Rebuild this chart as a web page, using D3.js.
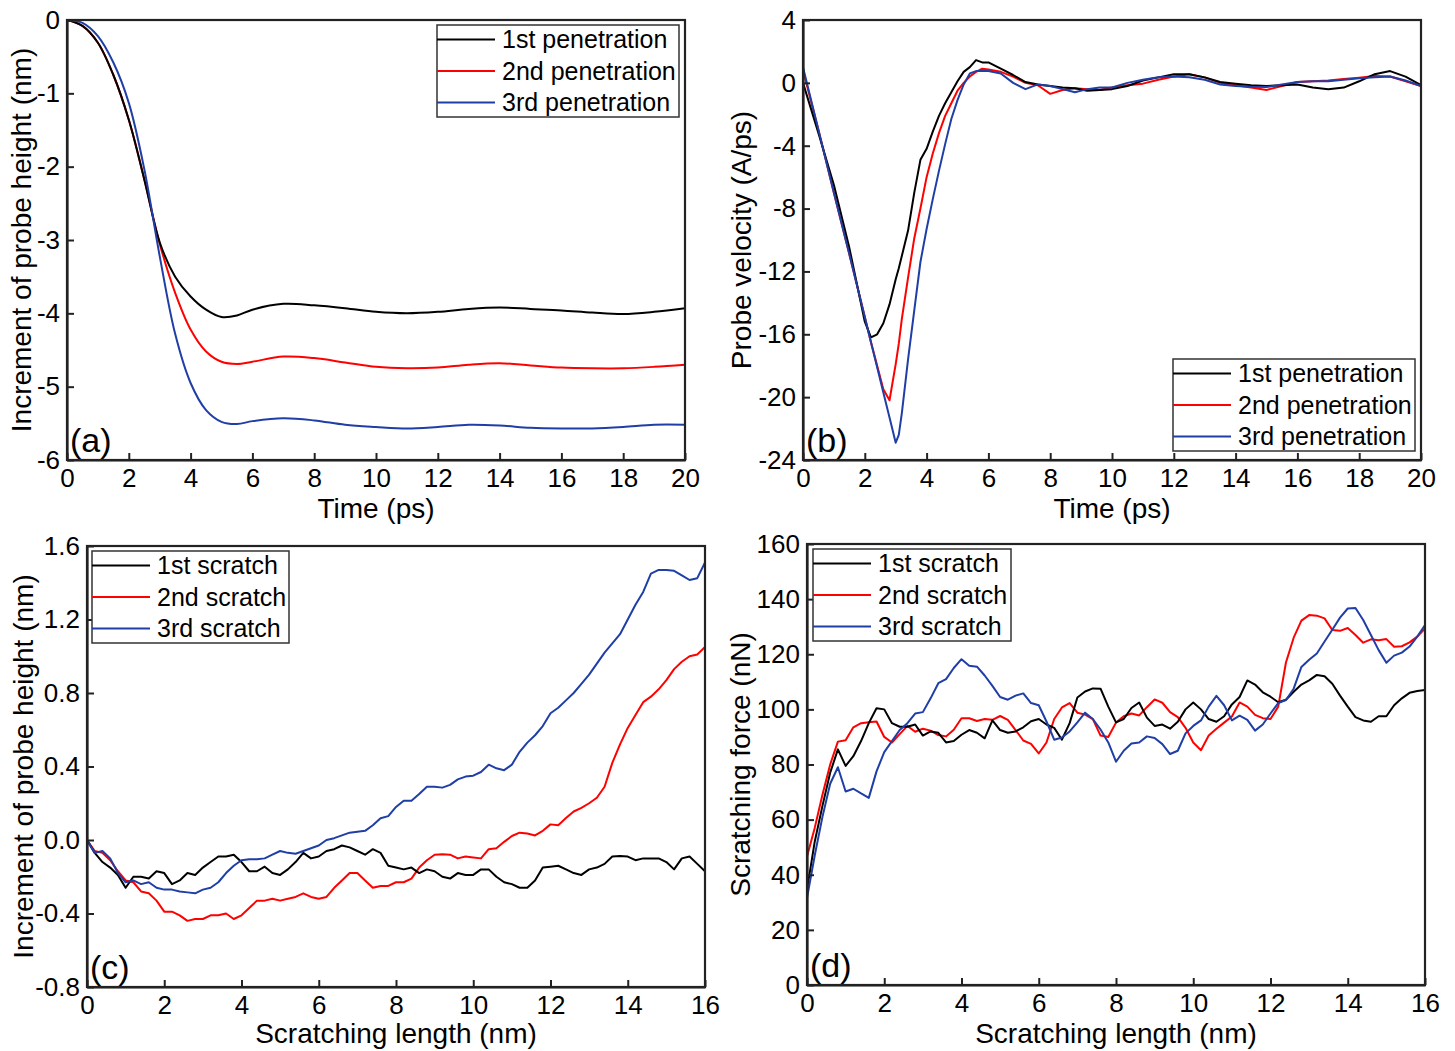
<!DOCTYPE html>
<html>
<head>
<meta charset="utf-8">
<script src="https://cdn.jsdelivr.net/npm/d3@7"></script>
<style>
body { margin: 0; background: #fff; }
text { font-family: "Liberation Sans", Arial, sans-serif; fill: #000; }
</style>
</head>
<body>
<script>
var width = 1455,
    height = 1051;

// ---- data -------------------------------------------------------------
var penetrationNames = ['1st penetration', '2nd penetration', '3rd penetration'];
var scratchNames = ['1st scratch', '2nd scratch', '3rd scratch'];

var timeTicks = [0, 2, 4, 6, 8, 10, 12, 14, 16, 18, 20];
var lengthTicks = [0, 2, 4, 6, 8, 10, 12, 14, 16];
var heightTicksA = [0, -1, -2, -3, -4, -5, -6];
var velocityTicks = [4, 0, -4, -8, -12, -16, -20, -24];
var heightTicksC = [1.6, 1.2, 0.8, 0.4, 0.0, -0.4, -0.8];
var forceTicks = [0, 20, 40, 60, 80, 100, 120, 140, 160];

// (a) probe height during penetration
var timeA = [0, 0.5, 1, 1.5, 2, 2.5, 3, 3.5, 4, 4.5, 5, 5.5, 6, 7, 8, 9, 10, 11, 12, 13, 14, 15, 16, 17, 18, 19, 20];
var heightA1 = [0, -0.08, -0.31, -0.75, -1.36, -2.17, -3.03, -3.50, -3.77, -3.95, -4.05, -4.03, -3.95, -3.87, -3.89, -3.93, -3.98, -4.00, -3.98, -3.94, -3.92, -3.94, -3.96, -3.99, -4.01, -3.98, -3.93];
var heightA2 = [0, -0.08, -0.31, -0.75, -1.36, -2.17, -3.05, -3.72, -4.22, -4.52, -4.66, -4.69, -4.66, -4.59, -4.61, -4.67, -4.73, -4.75, -4.74, -4.70, -4.68, -4.71, -4.74, -4.75, -4.75, -4.73, -4.70];
var heightA3 = [0, -0.04, -0.22, -0.58, -1.13, -2.03, -3.22, -4.28, -4.95, -5.32, -5.48, -5.51, -5.47, -5.43, -5.46, -5.52, -5.55, -5.57, -5.55, -5.52, -5.53, -5.56, -5.57, -5.57, -5.55, -5.52, -5.52];

// (b) probe velocity during penetration
var timeB = [0, 0.5, 1, 1.5, 2, 2.2, 2.4, 2.6, 2.8, 3.0, 3.1, 3.2, 3.4, 3.6, 3.8, 4.0, 4.2, 4.4, 4.6, 4.8,
             5.0, 5.2, 5.4, 5.6, 5.8, 6.0, 6.4, 6.8, 7.2, 7.6, 8.0, 8.4, 8.8, 9.2, 9.6, 10, 10.5, 11, 11.5, 12,
             12.5, 13, 13.5, 14, 14.5, 15, 15.5, 16, 16.5, 17, 17.5, 18, 18.5, 19, 19.5, 20];
var velocityB1 = [0, -3.2, -6.5, -10.5, -15.2, -16.2, -16.0, -15.3, -14.1, -12.5, -11.8, -11.0, -9.4, -7.0, -4.9, -4.2, -3.1, -2.1, -1.3, -0.6,
                  0.1, 0.7, 1.0, 1.45, 1.3, 1.3, 0.9, 0.5, 0.05, -0.1, -0.2, -0.3, -0.35, -0.5, -0.46, -0.4, -0.2, 0.15, 0.35, 0.55,
                  0.55, 0.35, 0.05, -0.05, -0.15, -0.2, -0.15, -0.1, -0.3, -0.4, -0.3, 0.1, 0.55, 0.75, 0.4, -0.15];
var velocityB2 = [0.8, -3.0, -7.0, -10.9, -14.9, -16.5, -18.0, -19.5, -20.2, -17.9, -16.6, -15.0, -12.4, -9.9, -8.0, -6.0, -4.5, -3.2, -2.1, -1.3,
                  -0.5, 0.0, 0.4, 0.7, 0.9, 0.85, 0.7, 0.4, 0.0, -0.15, -0.7, -0.45, -0.35, -0.4, -0.45, -0.3, -0.15, -0.05, 0.2, 0.4,
                  0.55, 0.35, 0.0, -0.15, -0.3, -0.45, -0.2, 0.05, 0.1, 0.15, 0.25, 0.33, 0.43, 0.4, 0.1, -0.2];
var velocityB3 = [1.0, -3.0, -7.0, -10.9, -14.9, -16.5, -18.1, -19.7, -21.3, -22.9, -22.4, -21.0, -17.6, -14.5, -11.4, -9.3, -7.4, -5.6, -3.9, -2.3,
                  -1.1, -0.1, 0.6, 0.75, 0.75, 0.75, 0.6, 0.0, -0.4, -0.1, -0.2, -0.4, -0.6, -0.4, -0.3, -0.3, 0.0, 0.2, 0.35, 0.4,
                  0.35, 0.2, -0.1, -0.2, -0.25, -0.27, -0.1, 0.05, 0.1, 0.1, 0.2, 0.3, 0.35, 0.4, 0.15, -0.2];

// (c), (d) scratching
var lengthCD = [0, 0.2, 0.4, 0.6, 0.8, 1.0, 1.2, 1.4, 1.6, 1.8, 2.0, 2.2, 2.4, 2.6, 2.8, 3.0, 3.2, 3.4, 3.6, 3.8,
                4.0, 4.2, 4.4, 4.6, 4.8, 5.0, 5.2, 5.4, 5.6, 5.8, 6.0, 6.2, 6.4, 6.6, 6.8, 7.0, 7.2, 7.4, 7.6, 7.8,
                8.0, 8.2, 8.4, 8.6, 8.8, 9.0, 9.2, 9.4, 9.6, 9.8, 10.0, 10.2, 10.4, 10.6, 10.8, 11.0, 11.2, 11.4, 11.6, 11.8,
                12.0, 12.2, 12.4, 12.6, 12.8, 13.0, 13.2, 13.4, 13.6, 13.8, 14.0, 14.2, 14.4, 14.6, 14.8, 15.0, 15.2, 15.4, 15.6, 15.8, 16.0];
var heightC1 = [0, -0.07, -0.12, -0.15, -0.19, -0.26, -0.20, -0.20, -0.21, -0.17, -0.18, -0.24, -0.22, -0.18, -0.19, -0.15, -0.12, -0.09, -0.09, -0.08,
                -0.12, -0.17, -0.17, -0.145, -0.18, -0.19, -0.16, -0.12, -0.07, -0.10, -0.09, -0.06, -0.05, -0.03, -0.04, -0.06, -0.08, -0.05, -0.07, -0.14,
                -0.15, -0.16, -0.15, -0.18, -0.16, -0.17, -0.20, -0.21, -0.18, -0.19, -0.19, -0.16, -0.16, -0.20, -0.23, -0.24, -0.26, -0.26, -0.22, -0.15,
                -0.145, -0.14, -0.16, -0.18, -0.19, -0.16, -0.15, -0.13, -0.09, -0.087, -0.09, -0.11, -0.10, -0.10, -0.10, -0.12, -0.16, -0.10, -0.09, -0.13, -0.17];
var heightC2 = [0, -0.06, -0.07, -0.11, -0.17, -0.22, -0.23, -0.28, -0.29, -0.33, -0.39, -0.39, -0.41, -0.44, -0.43, -0.43, -0.41, -0.41, -0.40, -0.43,
                -0.41, -0.37, -0.33, -0.33, -0.32, -0.33, -0.32, -0.31, -0.29, -0.31, -0.32, -0.31, -0.26, -0.22, -0.18, -0.18, -0.22, -0.26, -0.25, -0.25,
                -0.23, -0.23, -0.21, -0.15, -0.11, -0.08, -0.077, -0.08, -0.10, -0.09, -0.095, -0.10, -0.05, -0.045, -0.01, 0.022, 0.04, 0.035, 0.025, 0.05,
                0.085, 0.08, 0.12, 0.155, 0.175, 0.20, 0.23, 0.29, 0.42, 0.52, 0.61, 0.68, 0.75, 0.78, 0.82, 0.87, 0.93, 0.97, 1.0, 1.01, 1.05];
var heightC3 = [0, -0.07, -0.06, -0.10, -0.18, -0.23, -0.22, -0.24, -0.23, -0.26, -0.27, -0.27, -0.28, -0.285, -0.29, -0.27, -0.26, -0.23, -0.18, -0.14,
                -0.11, -0.105, -0.105, -0.10, -0.08, -0.06, -0.07, -0.075, -0.06, -0.045, -0.03, 0.0, 0.01, 0.025, 0.04, 0.045, 0.05, 0.08, 0.118, 0.13,
                0.18, 0.214, 0.214, 0.25, 0.29, 0.29, 0.285, 0.30, 0.33, 0.345, 0.35, 0.37, 0.41, 0.39, 0.38, 0.41, 0.48, 0.53, 0.57, 0.62,
                0.69, 0.72, 0.76, 0.80, 0.85, 0.90, 0.96, 1.02, 1.07, 1.12, 1.20, 1.28, 1.35, 1.45, 1.47, 1.47, 1.465, 1.44, 1.415, 1.425, 1.51];
var forceD1 = [34.5, 52, 65, 77, 85.5, 79.5, 83, 88.5, 95, 100.4, 100, 95, 93.7, 93.7, 94.5, 90.5, 92, 91.5, 88, 88.5,
               90.8, 92.5, 91.5, 89.5, 96, 92.5, 91.5, 92, 93.5, 95.7, 96.5, 94.5, 93.3, 89, 95, 104.3, 106.5, 107.6, 107.5, 101,
               95.3, 96.5, 100.5, 102.5, 97, 94, 94.5, 93, 95.5, 100, 102.5, 100, 96.5, 95.5, 97.5, 101.8, 104.5, 110.5, 109, 106.2,
               104.6, 102.6, 103.5, 106.4, 109, 110.5, 112.5, 112, 109.3, 105, 101, 97.2, 96, 95.5, 97.5, 97.5, 101.5, 104, 106, 106.7, 107];
var forceD2 = [46.6, 57, 69, 80, 88.3, 88.8, 93.5, 95, 95.3, 95.6, 90, 88, 91, 94, 91.9, 93, 92.3, 90.7, 90.2, 92.6,
               96.8, 96.8, 95.8, 96.5, 96.2, 97.6, 96.2, 92.5, 88.7, 87.5, 84, 88, 96.5, 100.7, 102.3, 98.8, 98.1, 96.5, 90.5, 90,
               95.2, 97.5, 98.5, 97.8, 100.8, 103.6, 102.4, 99, 97.2, 93.3, 88, 85.2, 90.5, 93, 95.2, 97.4, 102.5, 101, 98, 96.8,
               96.5, 101, 117, 126, 132.2, 134.2, 134, 133, 128.8, 128.5, 129.5, 127, 124.2, 125.4, 125.1, 125.5, 122.7, 122.9, 124.3, 126.4, 129.3];
var forceD3 = [31.5, 47, 61, 73, 79, 70.2, 71.2, 69.5, 67.9, 77.5, 84.5, 88.5, 92.5, 95, 98.5, 99, 104, 109.5, 111, 115,
               118.2, 115.8, 115.5, 112.3, 108.5, 104.5, 103.5, 105, 105.8, 102.3, 101.5, 95.6, 89, 89.8, 92, 95.3, 98.8, 96.5, 92.7, 88,
               81, 85, 87.6, 88, 90.2, 89.6, 87.4, 83.8, 85, 91.3, 94, 96, 101, 104.9, 101.5, 96, 97.7, 96.2, 92.3, 94.5,
               98.5, 102.3, 103.4, 107.5, 115.4, 118, 120.3, 124.6, 128.9, 133.3, 136.6, 136.8, 132.4, 127, 121.5, 116.9, 119.5, 120.6, 122.8, 126.4, 130.6];

// ---- drawing ----------------------------------------------------------
var colors = ['#000000', '#ff0000', '#1f3ea6'];

var svg = d3.select('body').append('svg')
    .attr('width', width)
    .attr('height', height);

var panels = [
    {left: 67, top: 20, right: 685, bottom: 460, xDomain: [0, 20], yDomain: [-6, 0],
     xTicks: timeTicks, yTicks: heightTicksA, yFmt: function (d) { return String(d); },
     xs: timeA, series: [heightA1, heightA2, heightA3], names: penetrationNames, curve: d3.curveCatmullRom,
     xTitle: 'Time (ps)', yTitle: 'Increment of probe height (nm)', yTitleX: 31, xTitleY: 518,
     label: '(a)', legend: [437, 25, 242, 92]},
    {left: 803, top: 20, right: 1421, bottom: 460, xDomain: [0, 20], yDomain: [-24, 4],
     xTicks: timeTicks, yTicks: velocityTicks, yFmt: function (d) { return String(d); },
     xs: timeB, series: [velocityB1, velocityB2, velocityB3], names: penetrationNames, curve: d3.curveLinear,
     xTitle: 'Time (ps)', yTitle: 'Probe velocity (A/ps)', yTitleX: 751, xTitleY: 518,
     label: '(b)', legend: [1173, 359, 242, 92]},
    {left: 87, top: 546, right: 705, bottom: 987, xDomain: [0, 16], yDomain: [-0.8, 1.6],
     xTicks: lengthTicks, yTicks: heightTicksC, yFmt: function (d) { return d.toFixed(1); },
     xs: lengthCD, series: [heightC1, heightC2, heightC3], names: scratchNames, curve: d3.curveLinear,
     xTitle: 'Scratching length (nm)', yTitle: 'Increment of probe height (nm)', yTitleX: 33, xTitleY: 1043,
     label: '(c)', legend: [92, 551, 197, 92]},
    {left: 807, top: 544, right: 1425, bottom: 985, xDomain: [0, 16], yDomain: [0, 160],
     xTicks: lengthTicks, yTicks: forceTicks, yFmt: function (d) { return String(d); },
     xs: lengthCD, series: [forceD1, forceD2, forceD3], names: scratchNames, curve: d3.curveLinear,
     xTitle: 'Scratching length (nm)', yTitle: 'Scratching force (nN)', yTitleX: 750, xTitleY: 1043,
     label: '(d)', legend: [813, 549, 198, 92]}
];

panels.forEach(drawPanel);

function drawPanel(p) {
    var x = d3.scaleLinear().domain(p.xDomain).range([p.left, p.right]);
    var y = d3.scaleLinear().domain(p.yDomain).range([p.bottom, p.top]);
    var g = svg.append('g');

    // curves: red first so that shared parts are covered by black / blue
    var order = [1, 0, 2];
    order.forEach(function (k) {
        var line = d3.line()
            .x(function (d, i) { return x(p.xs[i]); })
            .y(function (d) { return y(d); })
            .curve(p.curve);
        g.append('path')
            .datum(p.series[k])
            .attr('d', line)
            .attr('fill', 'none')
            .attr('stroke', colors[k])
            .attr('stroke-width', 2)
            .attr('stroke-linejoin', 'round');
    });

    // frame
    g.append('rect')
        .attr('x', p.left)
        .attr('y', p.top)
        .attr('width', p.right - p.left)
        .attr('height', p.bottom - p.top)
        .attr('fill', 'none')
        .attr('stroke', '#222')
        .attr('stroke-width', 2.2);

    var xAxis = g.append('g')
        .attr('transform', 'translate(0,' + p.bottom + ')')
        .call(d3.axisBottom(x).tickValues(p.xTicks).tickSizeInner(-7).tickSizeOuter(0)
            .tickPadding(9).tickFormat(function (d) { return String(d); }));
    var yAxis = g.append('g')
        .attr('transform', 'translate(' + p.left + ',0)')
        .call(d3.axisLeft(y).tickValues(p.yTicks).tickSizeInner(-7).tickSizeOuter(0)
            .tickPadding(7).tickFormat(p.yFmt));

    [xAxis, yAxis].forEach(function (ax) {
        ax.attr('font-family', null).attr('font-size', null);
        ax.select('.domain').attr('stroke', '#222').attr('stroke-width', 2.2);
        ax.selectAll('.tick line').attr('stroke', '#222').attr('stroke-width', 2);
        ax.selectAll('.tick text').style('font-size', '26px').attr('fill', '#000');
    });

    // axis titles
    g.append('text')
        .attr('x', (p.left + p.right) / 2)
        .attr('y', p.xTitleY)
        .attr('text-anchor', 'middle')
        .style('font-size', '28px')
        .text(p.xTitle);
    g.append('text')
        .attr('transform', 'translate(' + p.yTitleX + ',' + ((p.top + p.bottom) / 2) + ') rotate(-90)')
        .attr('text-anchor', 'middle')
        .style('font-size', '28px')
        .text(p.yTitle);

    // panel label
    g.append('text')
        .attr('x', p.left + 3)
        .attr('y', p.bottom - 8)
        .style('font-size', '34px')
        .text(p.label);

    // legend
    var lg = g.append('g').attr('transform', 'translate(' + p.legend[0] + ',' + p.legend[1] + ')');
    lg.append('rect')
        .attr('width', p.legend[2])
        .attr('height', p.legend[3])
        .attr('fill', '#fff')
        .attr('stroke', '#333')
        .attr('stroke-width', 1.5);
    p.names.forEach(function (name, i) {
        var ry = 14.5 + 31.5 * i;
        lg.append('line')
            .attr('x1', 0).attr('x2', 58)
            .attr('y1', ry).attr('y2', ry)
            .attr('stroke', colors[i])
            .attr('stroke-width', 2);
        lg.append('text')
            .attr('x', 65)
            .attr('y', ry + 8.5)
            .style('font-size', '25px')
            .text(name);
    });
}
</script>
</body>
</html>
